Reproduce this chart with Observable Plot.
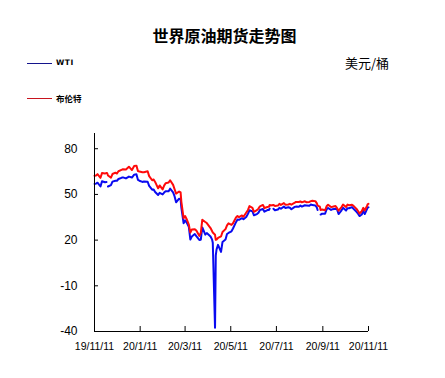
<!DOCTYPE html>
<html><head><meta charset="utf-8">
<script src="https://cdn.jsdelivr.net/npm/d3@7"></script>
<script src="https://cdn.jsdelivr.net/npm/@observablehq/plot@0.6"></script>
<style>
body{margin:0;background:#fff;}
#wrap{position:relative;width:445px;height:378px;overflow:hidden;font-family:"Liberation Sans",Arial,sans-serif;}
.t{position:absolute;white-space:nowrap;color:#000;}
.lg{position:absolute;height:1px;}
#chart{position:absolute;left:0;top:0;}
</style></head><body>
<div id="wrap">
<div id="chart"></div>
<div class="t" style="left:0;width:449px;top:27px;text-align:center;font:bold 16px/16px 'Noto Sans CJK SC';">世界原油期货走势图</div>
<div class="t" style="left:345px;top:56px;font:13px/13px 'Noto Sans CJK SC';">美元/桶</div>
<div class="lg" style="left:27px;top:63px;width:25px;background:#14148c;"></div>
<div class="t" style="left:56px;top:59px;font:bold 7.5px/8px 'DejaVu Sans';letter-spacing:0.6px;">WTI</div>
<div class="lg" style="left:27px;top:98px;width:25px;background:#c8141e;"></div>
<div class="t" style="left:56px;top:94px;font:bold 8.5px/9px 'Noto Sans CJK SC';">布伦特</div>
</div>
<script>
const dates = [
"2019-11-11","2019-11-13","2019-11-15","2019-11-19","2019-11-21","2019-11-25","2019-11-27","2019-11-28","2019-11-29",
"2019-12-03","2019-12-05","2019-12-09","2019-12-11","2019-12-13","2019-12-17","2019-12-19","2019-12-23","2019-12-27","2019-12-31",
"2020-01-03","2020-01-06","2020-01-08","2020-01-10","2020-01-14","2020-01-16","2020-01-21","2020-01-23","2020-01-27","2020-01-29","2020-01-31",
"2020-02-04","2020-02-06","2020-02-10","2020-02-12","2020-02-14","2020-02-18","2020-02-20","2020-02-24","2020-02-26","2020-02-28",
"2020-03-03","2020-03-05","2020-03-06","2020-03-09","2020-03-11","2020-03-13","2020-03-16","2020-03-18","2020-03-20","2020-03-24","2020-03-26","2020-03-30",
"2020-04-01","2020-04-03","2020-04-07","2020-04-09","2020-04-14","2020-04-16","2020-04-17","2020-04-20","2020-04-21","2020-04-22","2020-04-24","2020-04-28","2020-04-30",
"2020-05-04","2020-05-06","2020-05-08","2020-05-12","2020-05-14","2020-05-18","2020-05-20","2020-05-22","2020-05-26","2020-05-28",
"2020-06-01","2020-06-03","2020-06-05","2020-06-09","2020-06-11","2020-06-15","2020-06-17","2020-06-19","2020-06-23","2020-06-25","2020-06-29",
"2020-07-01","2020-07-02","2020-07-03","2020-07-07","2020-07-09","2020-07-13","2020-07-15","2020-07-17","2020-07-21","2020-07-23","2020-07-27","2020-07-29","2020-07-31",
"2020-08-04","2020-08-06","2020-08-10","2020-08-12","2020-08-14","2020-08-18","2020-08-20","2020-08-24","2020-08-26","2020-08-28",
"2020-09-01","2020-09-03","2020-09-04","2020-09-07","2020-09-08","2020-09-10","2020-09-14","2020-09-16","2020-09-18","2020-09-22","2020-09-24","2020-09-28","2020-09-30",
"2020-10-02","2020-10-06","2020-10-08","2020-10-12","2020-10-14","2020-10-16","2020-10-20","2020-10-22","2020-10-26","2020-10-28","2020-10-30",
"2020-11-02","2020-11-04","2020-11-06","2020-11-09","2020-11-10","2020-11-11"
];
const wti = [
56.9,57.1,57.7,55.2,58.6,58.0,58.1,null,55.2,
56.1,58.4,59.0,59.0,60.1,60.9,61.2,60.5,61.7,61.1,
63.0,63.3,59.6,59.0,58.2,58.5,58.3,55.6,53.1,53.3,51.6,
49.6,51.0,50.0,51.2,52.1,52.1,53.8,51.4,48.7,44.8,
47.2,46.8,41.3,31.1,33.0,31.7,28.7,20.4,22.4,24.0,22.6,20.1,
20.3,28.3,23.6,24.6,22.4,20.5,18.3,-37.6,10.0,13.8,16.9,12.3,18.8,
20.4,24.0,24.7,25.8,27.6,31.8,33.5,33.3,34.4,33.7,
35.4,37.3,39.6,38.9,36.3,37.1,38.0,39.8,40.4,38.7,39.7,
39.8,40.7,null,40.6,39.6,40.1,41.2,40.6,42.0,41.1,41.6,41.3,40.3,
41.7,42.0,41.9,42.7,42.0,42.9,42.8,42.6,43.4,43.0,
42.8,41.4,39.8,null,36.8,37.3,37.3,40.2,41.1,39.8,40.3,40.6,40.2,
37.1,39.6,41.2,39.4,41.0,40.9,41.7,40.6,38.6,37.4,35.8,
36.8,39.2,37.1,40.3,41.4,41.5
];
const brent = [
62.2,62.4,63.3,60.9,64.0,63.7,64.1,63.9,62.4,
61.0,63.4,64.3,63.7,65.2,66.1,66.5,66.4,68.2,66.0,
68.6,68.9,65.4,65.0,64.5,64.6,65.2,62.0,59.3,59.8,58.2,
54.0,55.9,53.3,55.8,57.3,57.8,59.3,56.3,53.4,50.5,
51.9,51.3,45.3,34.4,35.8,33.9,30.1,24.9,27.0,27.2,26.3,22.8,
24.7,33.4,31.9,31.2,27.9,26.0,25.0,23.5,20.2,20.4,21.4,22.4,25.3,
27.2,29.7,31.0,30.0,31.1,34.8,35.8,35.1,36.2,35.3,
38.3,39.8,42.3,41.2,38.6,39.7,40.7,42.2,43.1,41.1,41.7,
42.0,43.1,42.8,43.1,42.4,42.7,43.8,43.1,44.3,43.3,43.4,43.8,43.3,
44.4,45.1,45.0,45.4,44.8,45.5,44.9,45.1,45.6,45.8,
45.6,44.1,42.7,42.0,39.8,40.1,39.6,42.2,43.2,41.7,41.9,42.4,41.0,
39.3,41.7,43.3,41.7,43.3,42.9,43.2,42.5,40.5,39.1,37.5,
39.0,41.2,39.5,42.4,43.6,43.8
];
const yTicks = [-40, -10, 20, 50, 80];
const xTickDates = ["2019-11-11","2020-01-11","2020-03-11","2020-05-11","2020-07-11","2020-09-11","2020-11-11"];
const xTickLabels = ["19/11/11","20/1/11","20/3/11","20/5/11","20/7/11","20/9/11","20/11/11"];

const parse = s => new Date(s + "T00:00:00Z");
const rows = dates.map((d, i) => ({date: parse(d), wti: wti[i], brent: brent[i]}));
const xTicks = xTickDates.map(parse);
const labelOf = new Map(xTicks.map((d, i) => [+d, xTickLabels[i]]));
const x0 = xTicks[0], x1 = xTicks[xTicks.length - 1];

const chart = Plot.plot({
  width: 445, height: 378,
  marginLeft: 94, marginRight: 77, marginTop: 133, marginBottom: 47,
  style: {fontFamily: "'Liberation Sans', Arial, sans-serif", background: "transparent", color: "#000"},
  x: {type: "utc", domain: [x0, x1]},
  y: {domain: [-40, 90]},
  marks: [
    Plot.line(rows, {x: "date", y: "wti", stroke: "#0a0af0", strokeWidth: 2}),
    Plot.line(rows, {x: "date", y: "brent", stroke: "#ff0a0a", strokeWidth: 2}),
    Plot.ruleX([x0], {stroke: "#000", strokeWidth: 1}),
    Plot.ruleY([-40], {stroke: "#000", strokeWidth: 1}),
    Plot.axisY(yTicks, {tickSize: -4, tickPadding: 21, fontSize: 12, stroke: "#000", fill: "#000", tickFormat: d => String(d)}),
    Plot.axisX(xTicks, {tickSize: -5, tickPadding: 16, fontSize: 10.5, stroke: "#000", fill: "#000", tickFormat: d => labelOf.get(+d)})
  ]
});
document.getElementById("chart").appendChild(chart);
</script>
</body></html>
